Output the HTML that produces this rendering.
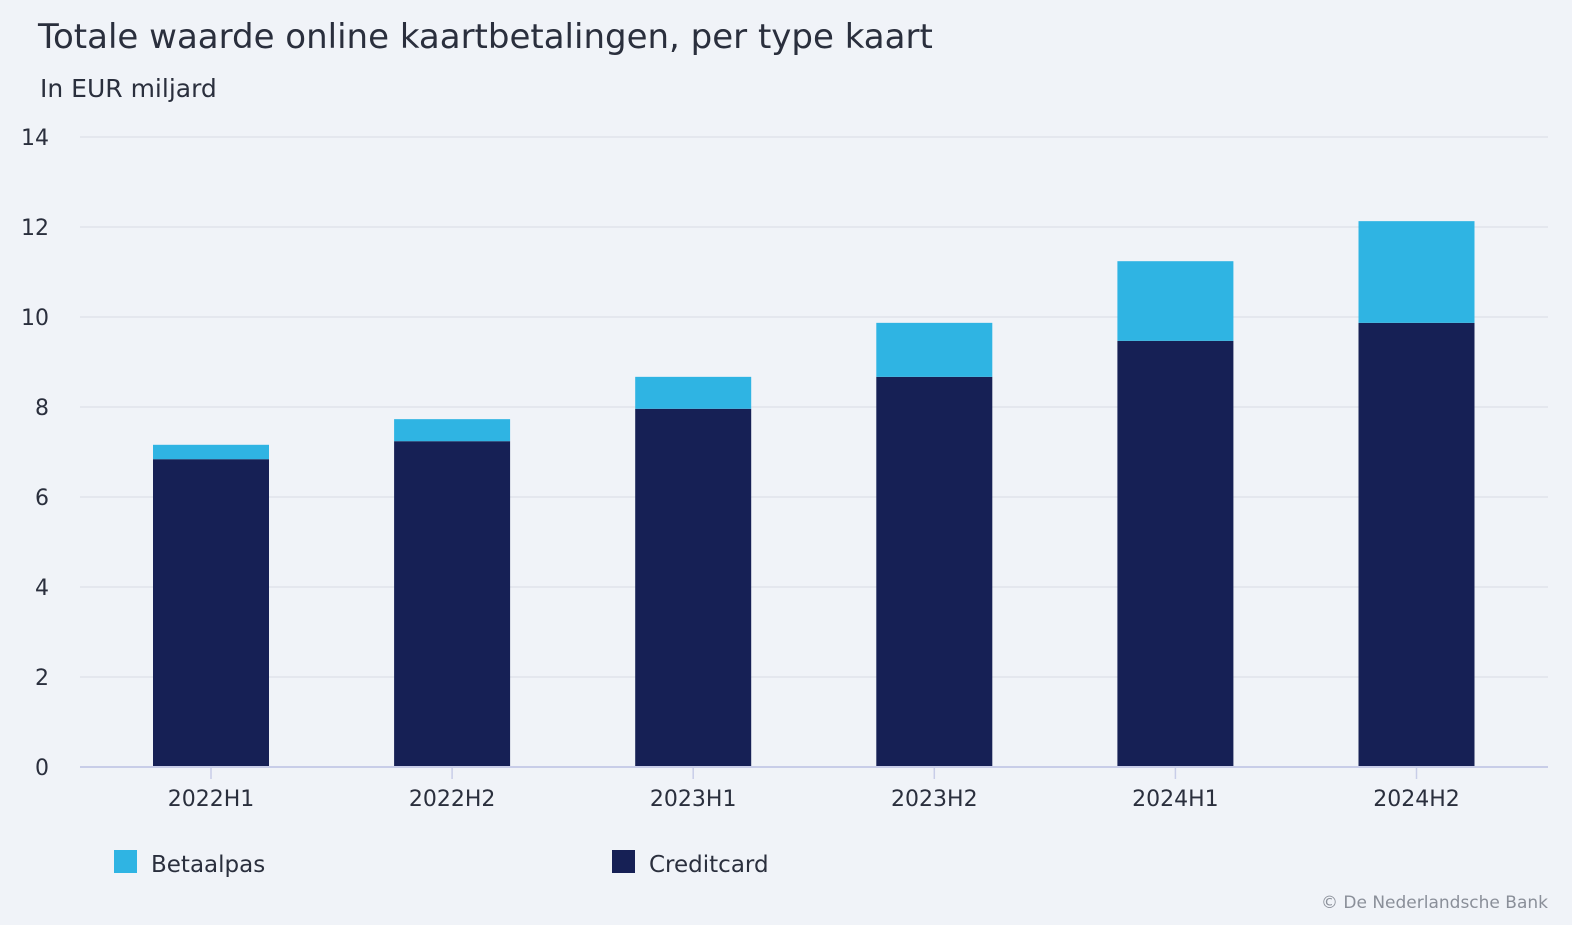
<!DOCTYPE html>
<html><head><meta charset="utf-8"><style>
body{margin:0;background:#f0f3f8;font-family:"Liberation Sans","DejaVu Sans",sans-serif;}
svg text{font-family:"DejaVu Sans","Liberation Sans",sans-serif;}
</style></head><body>
<svg width="1572" height="920" xmlns="http://www.w3.org/2000/svg">
<rect width="1572" height="920" fill="#f0f3f8"/>
<text x="38" y="48" font-size="34" fill="#2a2f3d">Totale waarde online kaartbetalingen, per type kaart</text>
<text x="40" y="97" font-size="25" fill="#2a2f3d">In EUR miljard</text>
<g id="grid"></g><g id="bars"></g><g id="xaxis"></g>
<rect x="114" y="850" width="23" height="23" fill="#2fb4e3"/>
<text x="151" y="872" font-size="23" fill="#2a2f3d">Betaalpas</text>
<rect x="612" y="850" width="23" height="23" fill="#162055"/>
<text x="649" y="872" font-size="23" fill="#2a2f3d">Creditcard</text>
<text x="1548" y="908" font-size="17" fill="#8a8f99" text-anchor="end">© De Nederlandsche Bank</text>
</svg>
<script>
const categories=["2022H1","2022H2","2023H1","2023H2","2024H1","2024H2"];
const creditcard=[6.84,7.24,7.96,8.67,9.47,9.87];
const betaalpas=[0.32,0.49,0.71,1.2,1.77,2.26];
const yTicks=[0,2,4,6,8,10,12,14];
const NS="http://www.w3.org/2000/svg";
const y0=767,pxPerUnit=45;
function yScale(v){return y0-v*pxPerUnit;}
function xScale(i){return 211+i*241.1;}
function mk(t,a,p){const e=document.createElementNS(NS,t);for(const k in a)e.setAttribute(k,a[k]);p.appendChild(e);return e;}
const grid=document.getElementById('grid'),bars=document.getElementById('bars'),xa=document.getElementById('xaxis');
yTicks.forEach(t=>{
 if(t>0){const l=mk('line',{x1:80,x2:1548,y1:yScale(t),y2:yScale(t),stroke:'#dfe3ea','stroke-width':1.5},grid);
 
 }
 const tx=mk('text',{x:49,y:yScale(t)+8,'font-size':22,fill:'#2a2f3d','text-anchor':'end'},grid);
 tx.textContent=t;
 
 
});
const ax=mk('line',{x1:80,x2:1548,y1:y0,y2:y0,stroke:'#c8cde8','stroke-width':2},xa);


categories.forEach((c,i)=>{
 const cx=xScale(i),w=116;
 const r1=mk('rect',{x:cx-w/2,y:yScale(creditcard[i]),width:w,height:creditcard[i]*pxPerUnit,fill:'#162055'},bars);
 
 
 const r2=mk('rect',{x:cx-w/2,y:yScale(creditcard[i]+betaalpas[i]),width:w,height:betaalpas[i]*pxPerUnit,fill:'#2fb4e3'},bars);
 
 
 const tk=mk('line',{x1:cx,x2:cx,y1:y0,y2:y0+12,stroke:'#c8cde8','stroke-width':1.5},xa);
 
 
 const tx=mk('text',{x:cx,y:806,'font-size':22,fill:'#2a2f3d','text-anchor':'middle'},xa);
 tx.textContent=c;
 
 
});
</script>
</body></html>
